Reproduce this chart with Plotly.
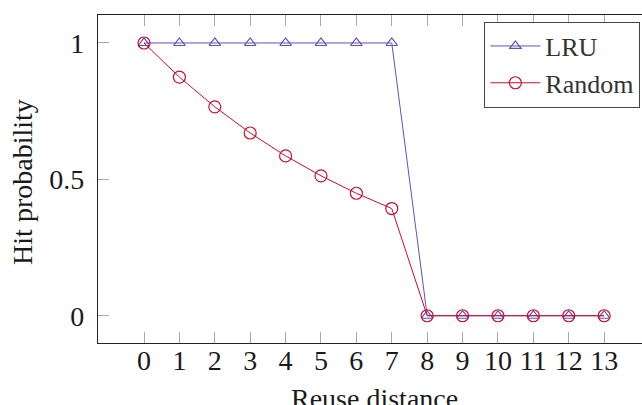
import plotly.graph_objects as go

reuse_distance = list(range(14))
lru_hit = [1, 1, 1, 1, 1, 1, 1, 1, 0, 0, 0, 0, 0, 0]
random_hit = [1, 0.875, 0.766, 0.670, 0.586, 0.513, 0.449, 0.393, 0, 0, 0, 0, 0, 0]
y_ticks = [0, 0.5, 1]
y_tick_labels = ["0", "0.5", "1"]
x_title = "Reuse distance"
y_title = "Hit probability"

FONT = "Liberation Serif"
LRU_COLOR = "#6650b8"
RND_COLOR = "#c8102e"

fig = go.Figure()
fig.add_trace(go.Scatter(
    x=reuse_distance, y=lru_hit, name="LRU", mode="lines+markers",
    line=dict(color=LRU_COLOR, width=1),
    marker=dict(symbol="triangle-up-open", size=10, color=LRU_COLOR, line=dict(width=1.2)),
))
fig.add_trace(go.Scatter(
    x=reuse_distance, y=random_hit, name="Random", mode="lines+markers",
    line=dict(color=RND_COLOR, width=1),
    marker=dict(symbol="circle-open", size=12, color=RND_COLOR, line=dict(width=1.2)),
))

fig.update_layout(
    width=642, height=405,
    margin=dict(l=98, r=0, t=15, b=62),
    paper_bgcolor="white", plot_bgcolor="white",
    font=dict(family=FONT, size=28, color="#1a1a1a"),
    showlegend=True,
    legend=dict(
        x=0.997, y=0.98, xanchor="right", yanchor="top",
        bordercolor="#444", borderwidth=1, bgcolor="white",
        font=dict(family=FONT, size=26, color="#333"),
        tracegroupgap=0, itemwidth=50,
    ),
    annotations=[
        dict(text=x_title, xref="paper", yref="paper", x=0.509, y=-0.17,
             xanchor="center", yanchor="middle", showarrow=False,
             font=dict(family=FONT, size=28, color="#1a1a1a")),
        dict(text=y_title, xref="paper", yref="paper", x=-0.138, y=0.491,
             xanchor="center", yanchor="middle", showarrow=False, textangle=-90,
             font=dict(family=FONT, size=28, color="#1a1a1a")),
    ],
)
fig.update_xaxes(
    range=[-1.3, 14.07], automargin=False,
    tickmode="array", tickvals=reuse_distance, ticktext=[str(v) for v in reuse_distance],
    ticks="inside", ticklen=11, tickcolor="#aaa", tickwidth=1,
    ticklabelstandoff=-8,
    showline=True, linecolor="#222", linewidth=1.3, mirror="allticks",
    showgrid=False, zeroline=False,
)
fig.update_yaxes(
    range=[-0.1, 1.1026], automargin=False,
    tickmode="array", tickvals=y_ticks, ticktext=y_tick_labels,
    ticks="inside", ticklen=11, tickcolor="#aaa", tickwidth=1,
    ticklabelstandoff=7,
    showline=True, linecolor="#222", linewidth=1.3, mirror=False,
    showgrid=False, zeroline=False,
)

fig.write_html("out.html")
